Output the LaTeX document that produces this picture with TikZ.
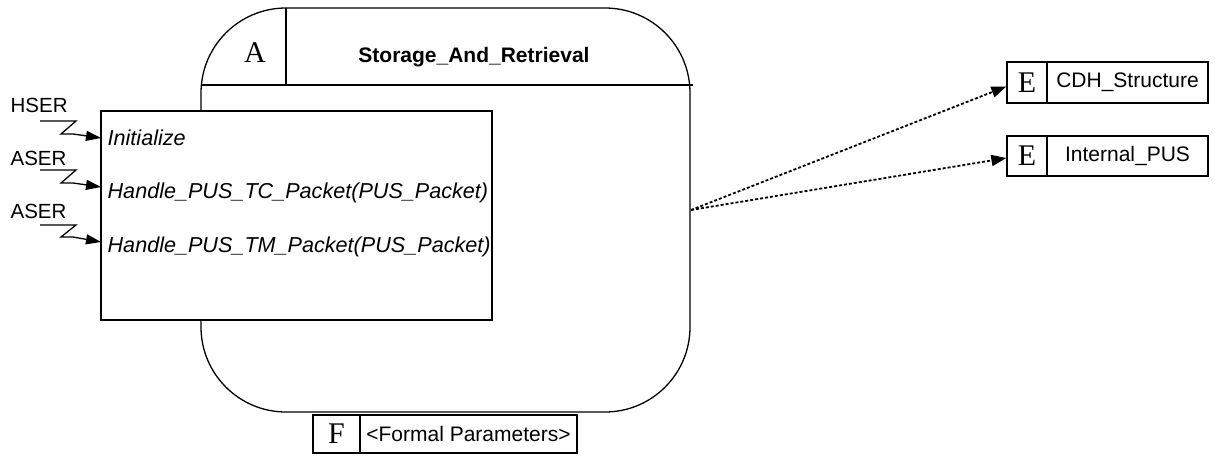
\documentclass[tikz,border=0pt]{standalone}
\usepackage{fontspec}
\setmainfont{Liberation Serif}
\setsansfont{Liberation Sans}
\usetikzlibrary{arrows.meta}
\begin{document}
\begin{tikzpicture}[x=1pt,y=-1pt, line width=1.3pt,
  font=\sffamily\fontsize{21}{25}\selectfont,
  letterbox/.style={draw, rectangle, inner sep=0pt, font=\rmfamily\fontsize{30}{34}\selectfont},
  namebox/.style={draw, rectangle, inner sep=0pt},
  opname/.style={anchor=base west, inner sep=0pt, font=\sffamily\itshape\fontsize{21.6}{25}\selectfont},
  signame/.style={anchor=base west, inner sep=0pt, font=\sffamily\fontsize{20.5}{24}\selectfont},
  trig/.style={-{Triangle[length=15pt,width=10pt]}, line width=1.3pt, line join=miter},
  dep/.style={dash pattern=on 3pt off 2pt, line width=1.8pt, -{Triangle[length=15pt,width=11pt]}}]
\useasboundingbox (0,0) rectangle (1215,455);

% main process
\draw[rounded corners=85pt] (201,8) rectangle (690,412);
\draw (201,85) -- (693,85);
\draw (286,8) -- (286,85);
\node[anchor=base, inner sep=0pt, font=\rmfamily\fontsize{30}{34}\selectfont] (aLetter) at (255,62) {A};
\node[anchor=base, inner sep=0pt, font=\sffamily\bfseries\fontsize{21}{25}\selectfont] (title) at (474,62) {Storage\_And\_Retrieval};

% interface box
\draw[fill=white] (101,111) rectangle (492,320);
\node[opname] (op1) at (107,145) {Initialize};
\node[opname] (op2) at (107,198) {Handle\_PUS\_TC\_Packet(PUS\_Packet)};
\node[opname] (op3) at (107,252) {Handle\_PUS\_TM\_Packet(PUS\_Packet)};

% triggers
\node[signame] (s1) at (10,112) {HSER};
\node[signame] (s2) at (10,165) {ASER};
\node[signame] (s3) at (10,218) {ASER};
\coordinate (z1) at (40,121);
\coordinate (t1) at (101,138);
\coordinate (z2) at (40,170);
\coordinate (t2) at (101,187);
\coordinate (z3) at (40,225);
\coordinate (t3) at (101,242);
\draw[trig] (z1) -- ++(36,0) -- ++(-15,13) -- ++(12,0) -- (t1);
\draw[trig] (z2) -- ++(36,0) -- ++(-15,13) -- ++(12,0) -- (t2);
\draw[trig] (z3) -- ++(36,0) -- ++(-15,12) -- ++(12,0) -- (t3);

% used components
\node[letterbox, minimum width=40pt, minimum height=41pt] (cdhL) at (1027,82.5) {E};
\node[namebox, minimum width=161pt, minimum height=41pt] (cdhN) at (1127.5,82.5) {CDH\_Structure};
\node[letterbox, minimum width=40pt, minimum height=40pt] (pusL) at (1027,156) {E};
\node[namebox, minimum width=161pt, minimum height=40pt] (pusN) at (1127.5,156) {Internal\_PUS};

\coordinate (src) at (691,210);
\draw[dep] (src) -- ([yshift=-4pt]cdhL.west);
\draw[dep] (src) -- ([yshift=-2pt]pusL.west);

% formal parameters
\node[letterbox, minimum width=47pt, minimum height=38pt] (fL) at (336.5,434) {F};
\node[namebox, minimum width=217pt, minimum height=38pt] (fN) at (468.5,434) {<Formal Parameters>};
\end{tikzpicture}
\end{document}
